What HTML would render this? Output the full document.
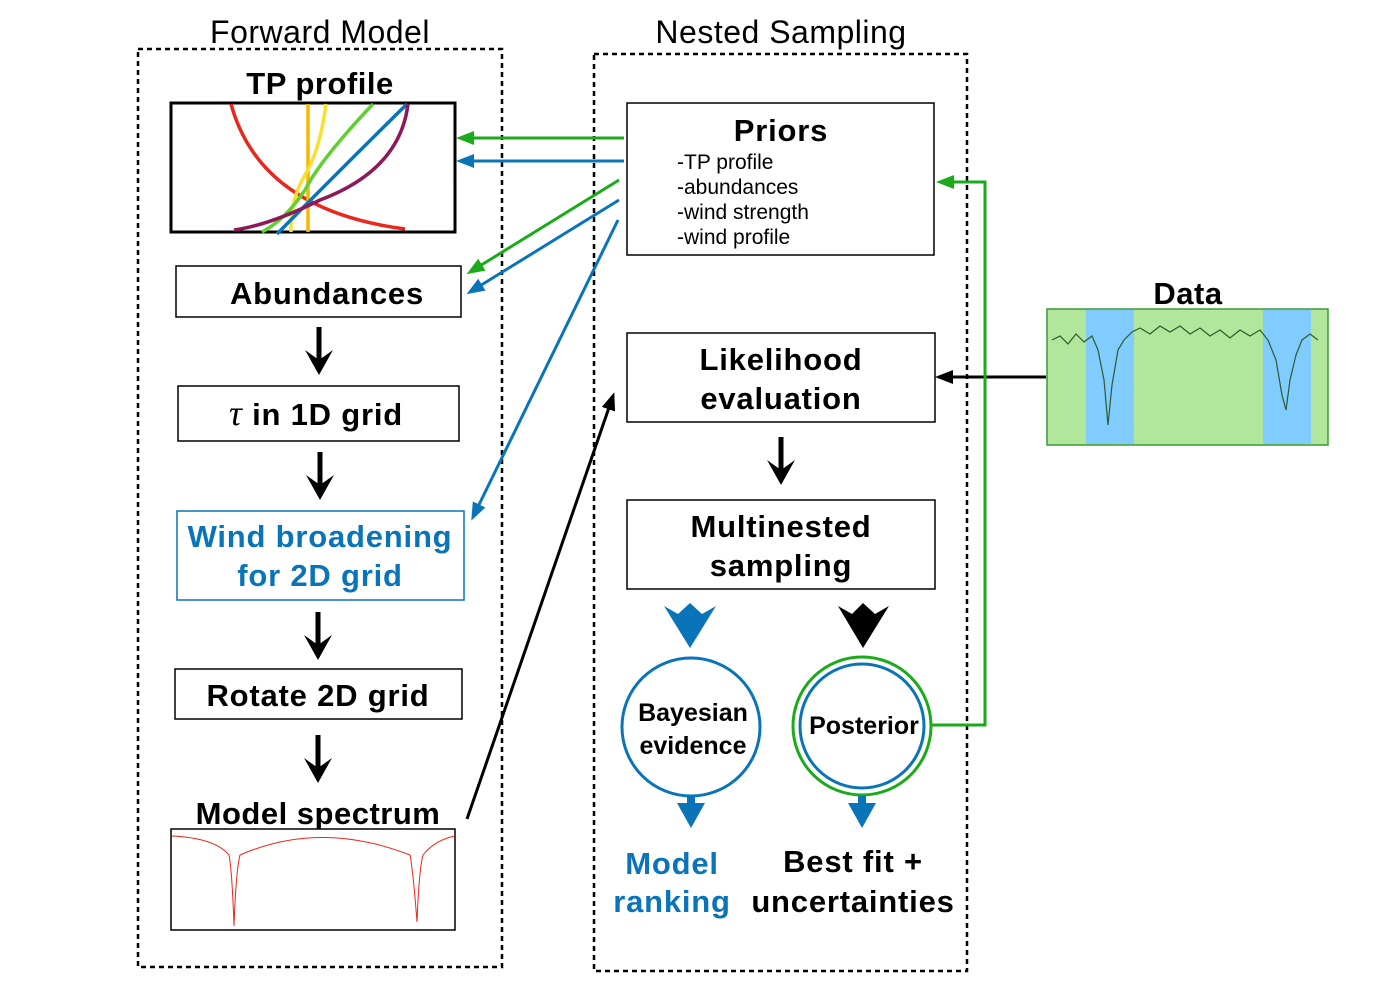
<!DOCTYPE html>
<html><head><style>body{margin:0;background:#fff}svg{display:block}</style></head><body>
<svg width="1383" height="989" viewBox="0 0 1383 989" xmlns="http://www.w3.org/2000/svg" font-family="Liberation Sans, sans-serif">
<defs>
<marker id="ag" markerWidth="18" markerHeight="14" refX="14" refY="7" orient="auto" markerUnits="userSpaceOnUse"><path d="M0,0 L18,7 L0,14z" fill="#1aaa1a"/></marker>
<marker id="au" markerWidth="18" markerHeight="14" refX="14" refY="7" orient="auto" markerUnits="userSpaceOnUse"><path d="M0,0 L18,7 L0,14z" fill="#0a74b8"/></marker>
<marker id="ak" markerWidth="18" markerHeight="14" refX="14" refY="7" orient="auto" markerUnits="userSpaceOnUse"><path d="M0,0 L18,7 L0,14z" fill="#000"/></marker>
</defs>
<g font-size="32" text-anchor="middle">
<text x="320" y="43" letter-spacing="0.5">Forward Model</text>
<text x="781" y="43" letter-spacing="0.5">Nested Sampling</text>
</g>
<rect x="138" y="49" width="364" height="918" fill="none" stroke="#000" stroke-width="2.5" stroke-dasharray="5,4"/>
<rect x="594" y="54" width="373" height="917" fill="none" stroke="#000" stroke-width="2.5" stroke-dasharray="5,4"/>
<g font-weight="bold" text-anchor="middle" font-size="31" letter-spacing="0.5">
<text x="320" y="94">TP profile</text>
<text x="318" y="824">Model spectrum</text>
<text x="1188" y="304">Data</text>
</g>
<rect x="171" y="103" width="284" height="129" fill="#fff" stroke="#000" stroke-width="3"/>
<g fill="none" stroke-width="3.5">
<path d="M231,104 Q260,210 405,229" stroke="#e8281c"/>
<path d="M308,104 L308,232" stroke="#f5b800"/>
<path d="M326,104 Q320,150 305,175 Q290,200 291,232" stroke="#f8e030"/>
<path d="M373,104 Q320,160 305,190 Q285,220 262,232" stroke="#5fd030"/>
<path d="M407,104 Q340,170 277,234" stroke="#0a74b8"/>
<path d="M408,104 Q400,170 320,200 Q270,225 234,230" stroke="#8c1a5a"/>
</g>
<g fill="#fff" stroke="#000" stroke-width="1.5">
<rect x="176" y="266" width="285" height="51"/>
<rect x="178" y="386" width="281" height="55"/>
<rect x="175" y="669" width="287" height="50"/>
<rect x="171" y="829" width="284" height="101"/>
</g>
<rect x="177" y="511" width="287" height="89" fill="#fff" stroke="#0a74b8" stroke-width="1.5"/>
<g font-weight="bold" font-size="31" text-anchor="middle" letter-spacing="0.8">
<text x="327" y="304">Abundances</text>
<text x="316" y="425"><tspan font-family="Liberation Serif" font-style="italic" font-weight="normal" font-size="36">τ</tspan> in 1D grid</text>
<text x="320" y="547" fill="#0a74b8">Wind broadening</text>
<text x="320" y="586" fill="#0a74b8">for 2D grid</text>
<text x="318" y="706">Rotate 2D grid</text>
</g>
<path d="M172,836 Q215,838 229,855 Q232,870 234,926 Q236,870 240,855 Q320,820 410,855 Q413,870 417,922 Q419,870 423,855 Q435,840 455,836" fill="none" stroke="#e8281c" stroke-width="1"/>
<g stroke="#000" stroke-width="5" fill="none">
<path d="M319,327 V365"/><path d="M320,452 V490"/><path d="M318,612 V650"/><path d="M318,735 V773"/><path d="M781,437 V475"/>
</g>
<g fill="#000">
<path d="M305,350 L319,375 L333,350 L319,360z"/><path d="M306,475 L320,500 L334,475 L320,485z"/><path d="M304,635 L318,660 L332,635 L318,645z"/><path d="M304,758 L318,783 L332,758 L318,768z"/><path d="M767,460 L781,485 L795,460 L781,470z"/>
</g>
<g fill="#fff" stroke="#000" stroke-width="1.5">
<rect x="627" y="103" width="307" height="152"/>
<rect x="627" y="333" width="308" height="89"/>
<rect x="627" y="500" width="308" height="89"/>
</g>
<g font-weight="bold" font-size="31" text-anchor="middle" letter-spacing="0.8">
<text x="781" y="141">Priors</text>
<text x="781" y="370">Likelihood</text>
<text x="781" y="409">evaluation</text>
<text x="781" y="537">Multinested</text>
<text x="781" y="576">sampling</text>
</g>
<g font-size="21">
<text x="677" y="169">-TP profile</text>
<text x="677" y="194">-abundances</text>
<text x="677" y="219">-wind strength</text>
<text x="677" y="244">-wind profile</text>
</g>
<g stroke-width="3" fill="none">
<line x1="624" y1="138" x2="460" y2="138" stroke="#1aaa1a" marker-end="url(#ag)"/>
<line x1="624" y1="161" x2="460" y2="161" stroke="#0a74b8" marker-end="url(#au)"/>
<line x1="619" y1="180" x2="470" y2="272" stroke="#1aaa1a" marker-end="url(#ag)"/>
<line x1="619" y1="200" x2="470" y2="292" stroke="#0a74b8" marker-end="url(#au)"/>
<line x1="618" y1="220" x2="473" y2="517" stroke="#0a74b8" marker-end="url(#au)"/>
<line x1="467" y1="819" x2="613" y2="396" stroke="#000" marker-end="url(#ak)"/>
<line x1="1046" y1="377" x2="939" y2="377" stroke="#000" marker-end="url(#ak)"/>
<path d="M932,725 H985 V182 H940" stroke="#1aaa1a" marker-end="url(#ag)"/>
</g>
<rect x="1047" y="309" width="281" height="136" fill="#b2e69c" stroke="#3a9a3a" stroke-width="1.5"/>
<rect x="1086" y="310" width="48" height="134" fill="#80ccff"/>
<rect x="1263" y="310" width="48" height="134" fill="#80ccff"/>
<path d="M1052,340 L1060,336 L1068,344 L1076,334 L1084,342 L1092,336 L1098,350 L1104,380 L1108,425 L1112,385 L1118,350 L1124,340 L1132,332 L1140,328 L1150,334 L1160,326 L1170,332 L1180,326 L1190,334 L1200,328 L1210,336 L1220,330 L1230,338 L1240,330 L1250,336 L1260,330 L1268,340 L1276,360 L1282,395 L1286,410 L1290,380 L1296,355 L1302,340 L1310,334 L1318,340" fill="none" stroke="#2c5a2c" stroke-width="1.2"/>
<path d="M664,606 L678,614 L690,603 L702,614 L716,606 L690,648z" fill="#0a74b8"/>
<path d="M838,606 L852,614 L863,603 L875,614 L889,606 L863,648z" fill="#000"/>
<circle cx="691" cy="727" r="69" fill="#fff" stroke="#0a74b8" stroke-width="3"/>
<circle cx="862" cy="726" r="69" fill="#fff" stroke="#1aaa1a" stroke-width="3"/>
<circle cx="862" cy="726" r="62" fill="none" stroke="#0a74b8" stroke-width="3"/>
<g font-weight="bold" font-size="25" text-anchor="middle">
<text x="693" y="721">Bayesian</text>
<text x="693" y="754">evidence</text>
<text x="864" y="734">Posterior</text>
</g>
<g fill="#0a74b8">
<rect x="687" y="796" width="8" height="12"/><path d="M677,803 L691,828 L705,803z"/>
<rect x="858" y="796" width="8" height="12"/><path d="M848,803 L862,828 L876,803z"/>
</g>
<g font-weight="bold" font-size="31" text-anchor="middle" letter-spacing="0.8">
<text x="672" y="874" fill="#0a74b8">Model</text>
<text x="672" y="912" fill="#0a74b8">ranking</text>
<text x="853" y="872">Best fit +</text>
<text x="853" y="912">uncertainties</text>
</g>
</svg>
</body></html>
